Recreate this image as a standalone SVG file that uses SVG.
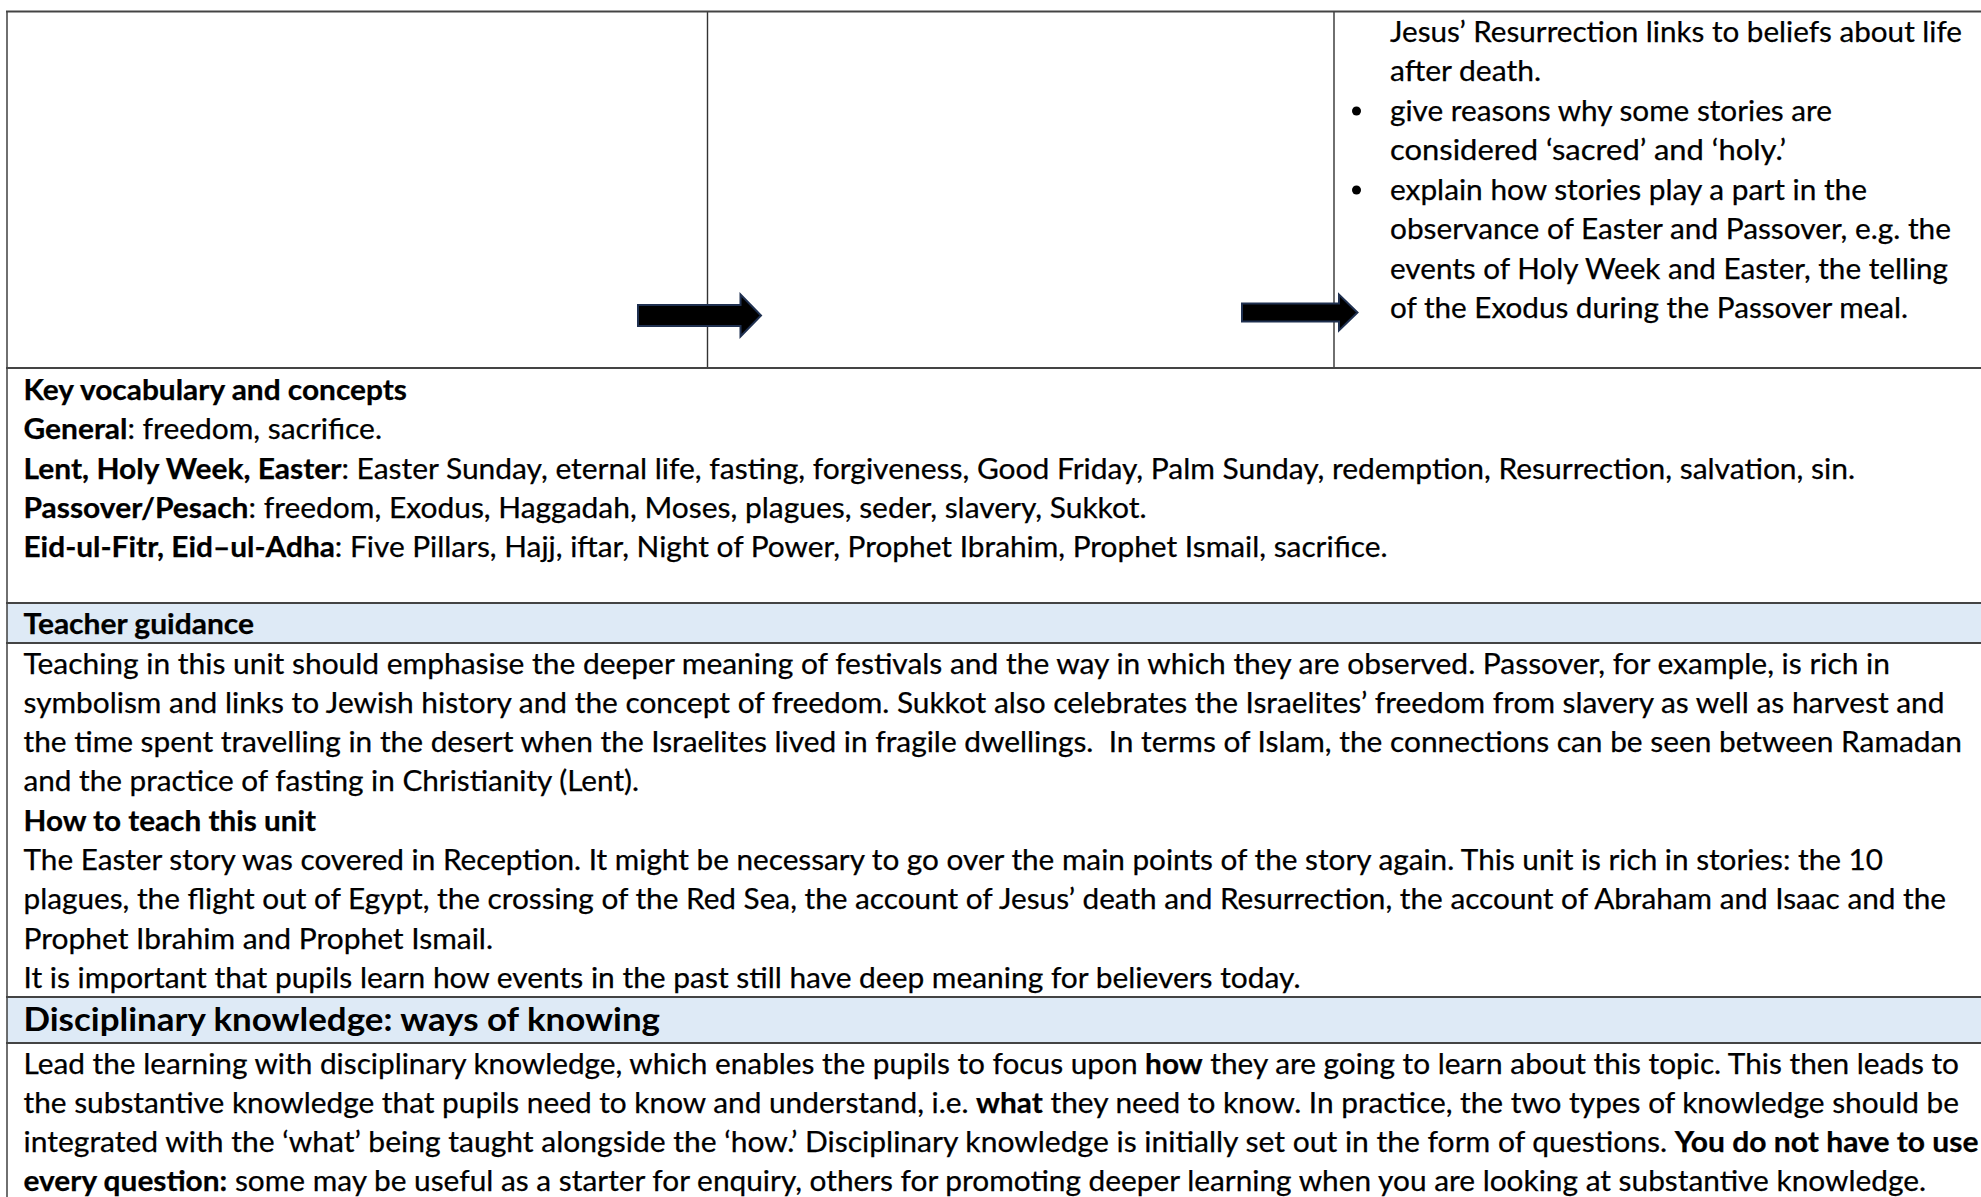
<svg xmlns="http://www.w3.org/2000/svg" width="1981" height="1197" viewBox="0 0 1981 1197">
  <style>
    .t { font-family: Lato, "Liberation Sans", sans-serif; font-size: 29px; fill: #000; stroke: #000; stroke-width: 0.25px; }
    .b { font-weight: bold; }
    .h2 { font-family: Lato, "Liberation Sans", sans-serif; font-size: 31.5px; font-weight: bold; fill: #000; }
    .hrule { stroke: #444; stroke-width: 2; fill: none; }
    .vrule { stroke: #333; stroke-width: 1.4; fill: none; }
    .band { fill: #DEEAF6; }
    .arrow { fill: #000; stroke: #1F3050; stroke-width: 2; stroke-linejoin: miter; }
  </style>

  <rect x="0" y="0" width="1981" height="1197" fill="#fff"/>

  <!-- shaded header bands -->
  <rect class="band" x="7" y="603" width="1974" height="40"/>
  <rect class="band" x="7" y="997" width="1974" height="46"/>

  <!-- table rules -->
  <g id="table-grid">
    <line class="vrule" x1="7" y1="11" x2="7" y2="1197"/>
    <line class="vrule" x1="707.5" y1="11.5" x2="707.5" y2="368"/>
    <line class="vrule" x1="1334" y1="11.5" x2="1334" y2="368"/>
    <line class="hrule" x1="6" y1="11.5" x2="1981" y2="11.5"/>
    <line class="hrule" x1="6" y1="368" x2="1981" y2="368"/>
    <line class="hrule" x1="6" y1="603" x2="1981" y2="603"/>
    <line class="hrule" x1="6" y1="643" x2="1981" y2="643"/>
    <line class="hrule" x1="6" y1="997" x2="1981" y2="997"/>
    <line class="hrule" x1="6" y1="1043" x2="1981" y2="1043"/>
  </g>

  <!-- outcomes cell, third column -->
  <g id="outcomes-cell">
    <text class="t" x="1390" y="41.5" textLength="572" lengthAdjust="spacingAndGlyphs">Jesus’ Resurrection links to beliefs about life</text>
    <text class="t" x="1390" y="81" textLength="151" lengthAdjust="spacingAndGlyphs">after death.</text>
    <circle cx="1356.5" cy="111" r="4.5" fill="#000"/>
    <text class="t" x="1390" y="120.5" textLength="442" lengthAdjust="spacingAndGlyphs">give reasons why some stories are</text>
    <text class="t" x="1390" y="160" textLength="396" lengthAdjust="spacingAndGlyphs">considered ‘sacred’ and ‘holy.’</text>
    <circle cx="1356.5" cy="190" r="4.5" fill="#000"/>
    <text class="t" x="1390" y="199.5" textLength="477" lengthAdjust="spacingAndGlyphs">explain how stories play a part in the</text>
    <text class="t" x="1390" y="239" textLength="561" lengthAdjust="spacingAndGlyphs">observance of Easter and Passover, e.g. the</text>
    <text class="t" x="1390" y="278.5" textLength="558" lengthAdjust="spacingAndGlyphs">events of Holy Week and Easter, the telling</text>
    <text class="t" x="1390" y="318" textLength="518" lengthAdjust="spacingAndGlyphs">of the Exodus during the Passover meal.</text>
  </g>

  <!-- block arrows between the columns -->
  <g id="connectors">
    <polygon class="arrow" points="638,305 740.5,305 740.5,294.5 761,315.5 740.5,336.5 740.5,326 638,326"/>
    <polygon class="arrow" points="1242,303.5 1339,303.5 1339,294.5 1357.5,312.5 1339,330.5 1339,321.5 1242,321.5"/>
  </g>

  <!-- key vocabulary -->
  <g id="key-vocabulary">
    <text class="t b" x="23.5" y="400" textLength="383.5" lengthAdjust="spacingAndGlyphs">Key vocabulary and concepts</text>
    <text class="t" x="23.5" y="439.3" textLength="358.5" lengthAdjust="spacingAndGlyphs"><tspan class="b">General</tspan>: freedom, sacrifice.</text>
    <text class="t" x="23.5" y="478.6" textLength="1831.5" lengthAdjust="spacingAndGlyphs"><tspan class="b">Lent, Holy Week, Easter</tspan>: Easter Sunday, eternal life, fasting, forgiveness, Good Friday, Palm Sunday, redemption, Resurrection, salvation, sin.</text>
    <text class="t" x="23.5" y="517.9" textLength="1123" lengthAdjust="spacingAndGlyphs"><tspan class="b">Passover/Pesach</tspan>: freedom, Exodus, Haggadah, Moses, plagues, seder, slavery, Sukkot.</text>
    <text class="t" x="23.5" y="557.2" textLength="1364" lengthAdjust="spacingAndGlyphs"><tspan class="b">Eid-ul-Fitr, Eid–ul-Adha</tspan>: Five Pillars, Hajj, iftar, Night of Power, Prophet Ibrahim, Prophet Ismail, sacrifice.</text>
  </g>

  <!-- teacher guidance -->
  <g id="teacher-guidance">
    <text class="t b" x="23.5" y="634" textLength="230.5" lengthAdjust="spacingAndGlyphs">Teacher guidance</text>
    <text class="t" x="23.5" y="673.5" textLength="1866.5" lengthAdjust="spacingAndGlyphs">Teaching in this unit should emphasise the deeper meaning of festivals and the way in which they are observed. Passover, for example, is rich in</text>
    <text class="t" x="23.5" y="712.8" textLength="1921" lengthAdjust="spacingAndGlyphs">symbolism and links to Jewish history and the concept of freedom. Sukkot also celebrates the Israelites’ freedom from slavery as well as harvest and</text>
    <text class="t" x="23.5" y="752.1" textLength="1938.5" lengthAdjust="spacingAndGlyphs" xml:space="preserve">the time spent travelling in the desert when the Israelites lived in fragile dwellings.  In terms of Islam, the connections can be seen between Ramadan</text>
    <text class="t" x="23.5" y="791.4" textLength="615.5" lengthAdjust="spacingAndGlyphs">and the practice of fasting in Christianity (Lent).</text>
    <text class="t b" x="23.5" y="830.7" textLength="292.5" lengthAdjust="spacingAndGlyphs">How to teach this unit</text>
    <text class="t" x="23.5" y="870" textLength="1859.5" lengthAdjust="spacingAndGlyphs">The Easter story was covered in Reception. It might be necessary to go over the main points of the story again. This unit is rich in stories: the 10</text>
    <text class="t" x="23.5" y="909.3" textLength="1922.5" lengthAdjust="spacingAndGlyphs">plagues, the flight out of Egypt, the crossing of the Red Sea, the account of Jesus’ death and Resurrection, the account of Abraham and Isaac and the</text>
    <text class="t" x="23.5" y="948.6" textLength="469.5" lengthAdjust="spacingAndGlyphs">Prophet Ibrahim and Prophet Ismail.</text>
    <text class="t" x="23.5" y="987.9" textLength="1277" lengthAdjust="spacingAndGlyphs">It is important that pupils learn how events in the past still have deep meaning for believers today.</text>
  </g>

  <!-- disciplinary knowledge -->
  <g id="disciplinary-knowledge">
    <text class="h2" x="23.5" y="1030.5" textLength="636.5" lengthAdjust="spacingAndGlyphs">Disciplinary knowledge: ways of knowing</text>
    <text class="t" x="23.5" y="1074" textLength="1935.5" lengthAdjust="spacingAndGlyphs">Lead the learning with disciplinary knowledge, which enables the pupils to focus upon <tspan class="b">how</tspan> they are going to learn about this topic. This then leads to</text>
    <text class="t" x="23.5" y="1113.2" textLength="1935.5" lengthAdjust="spacingAndGlyphs">the substantive knowledge that pupils need to know and understand, i.e. <tspan class="b">what</tspan> they need to know. In practice, the two types of knowledge should be</text>
    <text class="t" x="23.5" y="1152.4" textLength="1955" lengthAdjust="spacingAndGlyphs">integrated with the ‘what’ being taught alongside the ‘how.’ Disciplinary knowledge is initially set out in the form of questions. <tspan class="b">You do not have to use</tspan></text>
    <text class="t" x="23.5" y="1191.4" textLength="1902.5" lengthAdjust="spacingAndGlyphs"><tspan class="b">every question:</tspan> some may be useful as a starter for enquiry, others for promoting deeper learning when you are looking at substantive knowledge.</text>
  </g>
</svg>
